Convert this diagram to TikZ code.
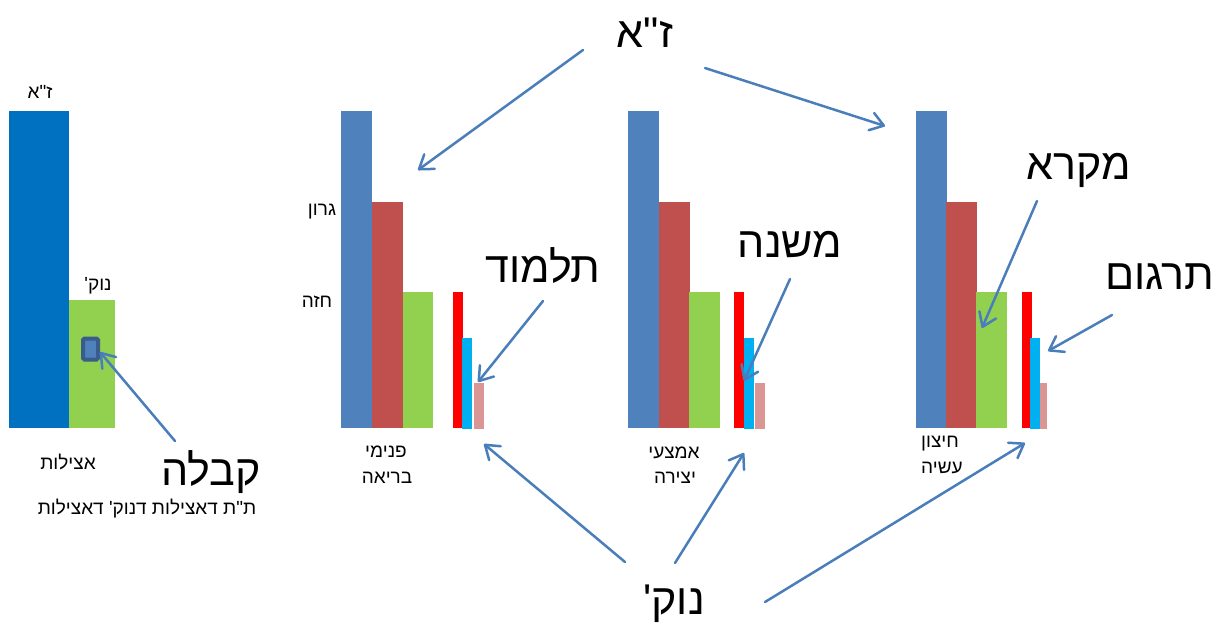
\documentclass[tikz,border=0pt]{standalone}
\usepackage{fontspec}
\usetikzlibrary{arrows.meta}
\TeXXeTstate=1
\newfontfamily\hebfont[Script=Hebrew,Ligatures=TeXOff]{Liberation Sans}
\newcommand\HebR[1]{\beginR #1\endR}
\definecolor{zablue}{RGB}{0,112,192}
\definecolor{barblue}{RGB}{79,129,189}
\definecolor{barred}{RGB}{192,80,77}
\definecolor{bargreen}{RGB}{146,208,80}
\definecolor{purered}{RGB}{255,0,0}
\definecolor{barcyan}{RGB}{0,176,240}
\definecolor{barpink}{RGB}{217,150,148}
\definecolor{arrowc}{RGB}{74,126,187}
\definecolor{sqborder}{RGB}{56,93,138}
\begin{document}
\begin{tikzpicture}[x=1pt,y=-1pt,
  lbl/.style={font=\hebfont\fontsize{19}{22}\selectfont, inner sep=0pt},
  big/.style={font=\hebfont\fontsize{43}{50}\selectfont, inner sep=0pt},
  arr/.style={draw=arrowc, line width=2.5pt, line cap=round,
    -{Straight Barb[length=13pt,width=18pt,line cap=round,line join=round]}},
]
\useasboundingbox (0,0) rectangle (1218,630);

% ---- Atzilut ----
\fill[zablue] (9,111) rectangle (69,428);
\fill[bargreen] (69,300) rectangle (115,428);
\node[draw=sqborder, line width=4pt, fill=barblue, rounded corners=1.5pt,
      minimum width=15pt, minimum height=21pt, inner sep=0pt] (sq) at (90.5,349) {};
\node[lbl] (za1) at (40,92) {\HebR{ז"א}};
\node[lbl] (nk1) at (98,286) {\HebR{נוק'}};
\node[lbl] (atz) at (68,462) {\HebR{אצילות}};
\node[big] (kab) at (211,472) {\HebR{קבלה}};
\node[lbl] (kabsub) at (147,509) {\HebR{ת"ת דאצילות דנוק' דאצילות}};

% ---- Beriah ----
\fill[barblue] (341,111) rectangle (372,428);
\fill[barred] (372,202) rectangle (403,428);
\fill[bargreen] (403,292) rectangle (433,428);
\fill[purered] (453,292) rectangle (463,428);
\fill[barcyan] (462,338) rectangle (472,429);
\fill[barpink] (474,383) rectangle (484,429);
\node[lbl] (garon) at (322,212) {\HebR{גרון}};
\node[lbl] (chaze) at (317,302) {\HebR{חזה}};
\node[lbl] (pnimi) at (386,452) {\HebR{פנימי}};
\node[lbl] (beria) at (387,478) {\HebR{בריאה}};
\node[big] (talmud) at (543,265) {\HebR{תלמוד}};

% ---- Yetzirah ----
\fill[barblue] (628,111) rectangle (659,428);
\fill[barred] (659,202) rectangle (690,428);
\fill[bargreen] (689,292) rectangle (720,428);
\fill[purered] (734,292) rectangle (744,428);
\fill[barcyan] (744,338) rectangle (754,429);
\fill[barpink] (755,383) rectangle (765,429);
\node[lbl] (emtzai) at (674,453) {\HebR{אמצעי}};
\node[lbl] (yetzira) at (675,478) {\HebR{יצירה}};
\node[big] (mishna) at (790,245) {\HebR{משנה}};

% ---- Asiyah ----
\fill[barblue] (916,111) rectangle (947,428);
\fill[barred] (946,202) rectangle (977,428);
\fill[bargreen] (976,292) rectangle (1007,428);
\fill[purered] (1022,292) rectangle (1032,428);
\fill[barcyan] (1030,338) rectangle (1040,429);
\fill[barpink] (1040,383) rectangle (1047,429);
\node[lbl] (chitzon) at (940,444) {\HebR{חיצון}};
\node[lbl] (asiya) at (942,468) {\HebR{עשיה}};
\node[big] (mikra) at (1079,170) {\HebR{מקרא}};
\node[big] (targum) at (1160,277) {\HebR{תרגום}};

% ---- top / bottom labels ----
\node[big] (za) at (645,33) {\HebR{ז"א}};
\node[big] (nk) at (674,604) {\HebR{נוק'}};

% ---- connector end points ----
\coordinate (za-l) at (583,50);
\coordinate (za-r) at (705,68);
\coordinate (t-beria) at (418,170);
\coordinate (t-asiya) at (885,126);
\coordinate (talmud-s) at (543,301);
\coordinate (talmud-t) at (478,382);
\coordinate (mishna-s) at (790,279);
\coordinate (mishna-t) at (744,381);
\coordinate (mikra-s) at (1037,201);
\coordinate (mikra-t) at (982,328);
\coordinate (targum-s) at (1112,315);
\coordinate (targum-t) at (1048,351);
\coordinate (nk-a) at (625,562);
\coordinate (nk-b) at (675,563);
\coordinate (nk-c) at (765,602);
\coordinate (nkt-beria) at (484,444);
\coordinate (nkt-yetzira) at (744,453);
\coordinate (nkt-asiya) at (1025,443);
\coordinate (kab-s) at (175,441);
\coordinate (sq-t) at (100,352);

\draw[arr] (za-l) -- (t-beria);
\draw[arr] (za-r) -- (t-asiya);
\draw[arr] (talmud-s) -- (talmud-t);
\draw[arr] (mishna-s) -- (mishna-t);
\draw[arr] (mikra-s) -- (mikra-t);
\draw[arr] (targum-s) -- (targum-t);
\draw[arr] (nk-a) -- (nkt-beria);
\draw[arr] (nk-b) -- (nkt-yetzira);
\draw[arr] (nk-c) -- (nkt-asiya);
\draw[arr] (kab-s) -- (sq-t);
\end{tikzpicture}
\end{document}
